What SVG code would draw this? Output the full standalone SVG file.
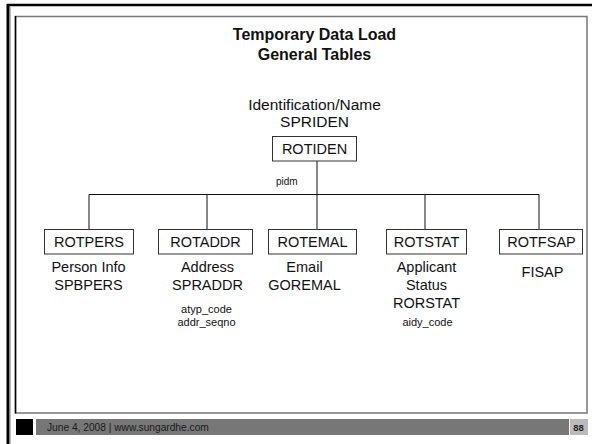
<svg xmlns="http://www.w3.org/2000/svg" width="592" height="444" viewBox="0 0 592 444">
  <style>
    text { font-family: "Liberation Sans", Arial, sans-serif; fill: #111; }
    .title { font-size: 16px; font-weight: bold; text-anchor: middle; }
    .head { font-size: 15.5px; text-anchor: middle; }
    .lbl { font-size: 14.5px; text-anchor: middle; }
    .key { font-size: 11px; text-anchor: middle; }
    .box { fill: #fff; stroke: #333; stroke-width: 1; }
    .wire { stroke: #111; stroke-width: 1; fill: none; }
  </style>

  <!-- slide frame -->
  <rect x="0" y="0" width="592" height="444" fill="#fff"/>
  <line x1="7" y1="5" x2="592" y2="5" stroke="#000" stroke-width="2.5"/>
  <line x1="8" y1="4" x2="8" y2="444" stroke="#000" stroke-width="3"/>
  <line x1="10.5" y1="6" x2="10.5" y2="444" stroke="#bbb" stroke-width="1"/>
  <rect x="15.5" y="16.5" width="571.5" height="396.5" fill="#fff" stroke="#777" stroke-width="1.5"/>
  <line x1="15.5" y1="16" x2="15.5" y2="413.5" stroke="#000" stroke-width="1.5"/>

  <!-- footer -->
  <g id="footer">
    <rect x="16" y="419" width="17" height="16" fill="#000"/>
    <rect x="36" y="419" width="533" height="16" fill="#777"/>
    <rect x="570" y="419" width="18" height="16" fill="#bbb"/>
    <text x="47" y="431" style="font-size:10.2px; fill:#1a1a1a;">June 4, 2008 | www.sungardhe.com</text>
    <text x="578.5" y="431" style="font-size:9.5px; font-weight:bold; fill:#222; text-anchor:middle;">88</text>
  </g>

  <!-- title -->
  <g id="title">
    <text class="title" x="314.5" y="40">Temporary Data Load</text>
    <text class="title" x="314.5" y="60">General Tables</text>
  </g>

  <!-- connectors -->
  <g id="connectors">
    <line class="wire" x1="317" y1="161" x2="317" y2="229.5"/>
    <line class="wire" x1="89" y1="194.5" x2="539" y2="194.5"/>
    <line class="wire" x1="89" y1="194.5" x2="89" y2="229.5"/>
    <line class="wire" x1="207" y1="194.5" x2="207" y2="229.5"/>
    <line class="wire" x1="425" y1="194.5" x2="425" y2="229.5"/>
    <line class="wire" x1="539" y1="194.5" x2="539" y2="229.5"/>
    <text x="276" y="185" style="font-size:10px;">pidm</text>
  </g>

  <!-- root table -->
  <g id="rotiden">
    <text class="head" x="314.5" y="110">Identification/Name</text>
    <text class="head" x="314.5" y="127">SPRIDEN</text>
    <rect class="box" x="272.5" y="136.5" width="84" height="24.5"/>
    <text class="lbl" x="314.5" y="154">ROTIDEN</text>
  </g>

  <g id="rotpers">
    <rect class="box" x="44.5" y="229.5" width="89" height="24.5"/>
    <text class="lbl" x="89" y="247">ROTPERS</text>
    <text class="lbl" x="88.5" y="271.5">Person Info</text>
    <text class="lbl" x="88.5" y="290">SPBPERS</text>
  </g>

  <g id="rotaddr">
    <rect class="box" x="158.5" y="229.5" width="94" height="24.5"/>
    <text class="lbl" x="205.5" y="247">ROTADDR</text>
    <text class="lbl" x="207.5" y="271.5">Address</text>
    <text class="lbl" x="207.5" y="290">SPRADDR</text>
    <text class="key" x="206.5" y="312.5">atyp_code</text>
    <text class="key" x="206.5" y="326">addr_seqno</text>
  </g>

  <g id="rotemal">
    <rect class="box" x="268.5" y="229.5" width="88" height="24.5"/>
    <text class="lbl" x="312.5" y="247">ROTEMAL</text>
    <text class="lbl" x="304.5" y="271.5">Email</text>
    <text class="lbl" x="304.5" y="290">GOREMAL</text>
  </g>

  <g id="rotstat">
    <rect class="box" x="386.5" y="229.5" width="80" height="24.5"/>
    <text class="lbl" x="426.5" y="247">ROTSTAT</text>
    <text class="lbl" x="426.5" y="271.5">Applicant</text>
    <text class="lbl" x="426.5" y="290">Status</text>
    <text class="lbl" x="426.5" y="308">RORSTAT</text>
    <text class="key" x="427.5" y="326">aidy_code</text>
  </g>

  <g id="rotfsap">
    <rect class="box" x="499.5" y="229.5" width="83" height="24.5"/>
    <text class="lbl" x="541.5" y="247">ROTFSAP</text>
    <text class="lbl" x="542.5" y="276.5">FISAP</text>
  </g>
</svg>
